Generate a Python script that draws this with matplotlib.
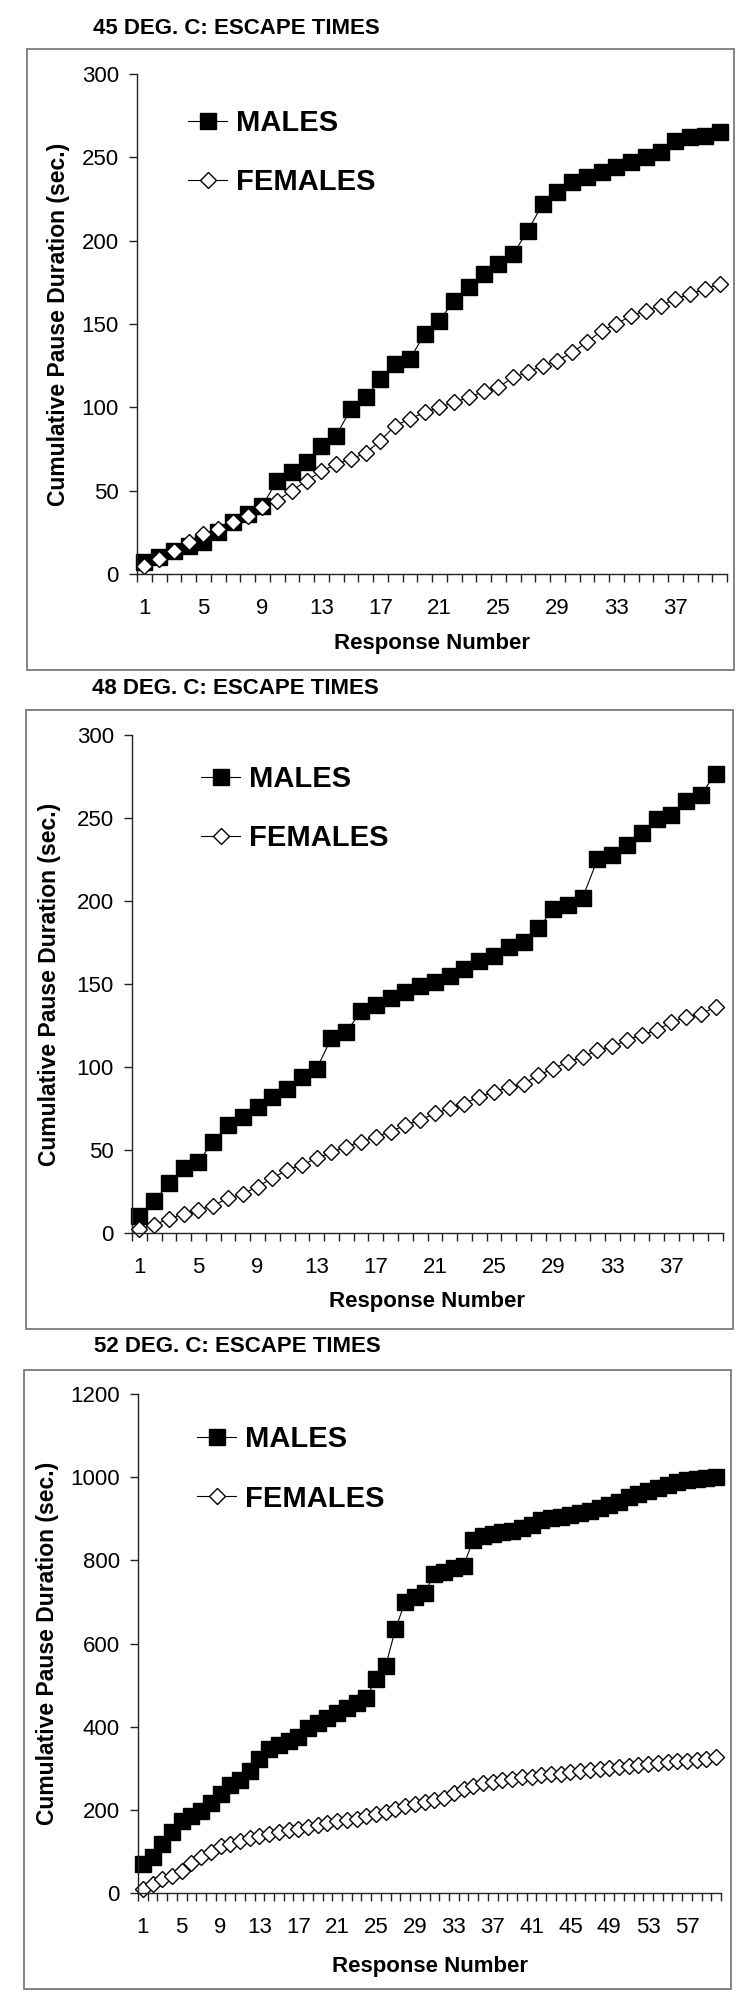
import numpy as np
import matplotlib.pyplot as plt
from matplotlib.patches import Rectangle

# Values (cumulative pause duration, sec.)
titles = ["45 DEG. C: ESCAPE TIMES", "48 DEG. C: ESCAPE TIMES", "52 DEG. C: ESCAPE TIMES"]

males_45 = [7, 10, 14, 16.5, 19, 25, 31, 36, 41, 56, 61, 67, 77, 83, 99, 106, 117, 126, 129, 144,
            152, 164, 172, 180, 186, 192, 206, 222, 229, 235, 238, 241, 244, 247, 250, 253, 260, 262, 263, 265]
females_45 = [4.5, 9, 14, 19, 24, 27, 31, 35, 40, 44, 50, 56, 61.5, 66, 69, 72.5, 80, 89, 93, 97,
              100, 103, 106, 109.5, 112, 118, 121, 125, 128, 133, 139, 146, 150, 155, 158, 161, 165, 168, 171, 174]

males_48 = [10, 19, 30, 39, 43, 55, 65, 70, 76, 82, 87, 94, 99, 117.5, 121, 133.5, 137.5, 141.5, 145, 148.5,
            151, 155, 159, 164, 167, 172, 175, 183.5, 195, 197.5, 202, 225, 228, 234, 241, 249.5, 252, 260, 264, 276.5]
females_48 = [2.5, 5, 8.5, 11.5, 14, 16.5, 21, 23.5, 28, 33, 38, 41, 45, 48.5, 52, 55, 58, 61, 65, 68,
              72, 75, 78, 82, 85, 88, 90, 95, 99, 103, 106, 110, 112.5, 116, 119.5, 122, 127, 130, 132, 136]

males_52 = [69, 86, 118, 147, 172, 185, 198, 216, 237, 259, 272, 293, 322, 347, 356, 365, 375, 397, 408, 422,
            434, 444, 457, 470, 515, 547, 635, 701, 711, 722, 767, 772, 781, 787, 849, 858, 863, 867, 871, 877,
            886, 897, 901, 905, 908, 913, 919, 927, 934, 940, 952, 960, 967, 974, 982, 989, 993, 996, 999, 1000]
females_52 = [9, 22, 34, 40, 54, 72, 86, 99, 112, 118, 125, 132, 136, 142, 147, 151, 155, 159, 164, 168,
              172, 175, 178, 184, 190, 194, 202, 209, 213, 218, 224, 228, 240, 250, 258, 264, 268, 272, 275, 278,
              280, 283, 285, 287, 290, 293, 296, 299, 301, 304, 306, 309, 311, 313, 315, 317, 318, 320, 322, 327]

y_max = [300, 300, 1200]
y_step = [50, 50, 200]
series = [(males_45, females_45), (males_48, females_48), (males_52, females_52)]

plt.rcParams['font.family'] = ['Liberation Sans', 'DejaVu Sans']

W, H = 750, 2010
fig = plt.figure(figsize=(W / 100, H / 100), dpi=100)


def fx(x):
    return x / W


def fy(y):
    return 1 - y / H


# layout in pixels: outer box, axes box, title, labels, legend
boxes = [(27, 49, 734, 670), (26, 710, 733, 1329), (24, 1370, 731, 1989)]
axes_px = [(137, 74, 727, 574), (132, 735, 723, 1233), (138, 1394, 721, 1893)]
title_pos = [(93, 28), (92, 688), (94, 1347)]
ylab_x = [59, 50, 48]
xlab_y = [643, 1301, 1966]
legend_pos = [(188, 109), (201, 765), (197, 1425)]

for i in range(3):
    bx0, by0, bx1, by1 = boxes[i]
    fig.add_artist(Rectangle((fx(bx0), fy(by1)), fx(bx1 - bx0), (by1 - by0) / H,
                             transform=fig.transFigure, fill=False, ec='#7a7a7a', lw=1.3))
    tx, ty = title_pos[i]
    fig.text(fx(tx), fy(ty), titles[i], ha='left', va='center', fontsize=16, weight='bold')

    x0, y0, x1, y1 = axes_px[i]
    ax = fig.add_axes([fx(x0), fy(y1), (x1 - x0) / W, (y1 - y0) / H])
    males, females = series[i]
    n = len(males)
    x = np.arange(1, n + 1)
    ax.plot(x, males, '-s', color='black', lw=0.8, ms=11, mfc='black', mec='black',
            label='MALES', clip_on=False)
    ax.plot(x, females, '-D', color='black', lw=0.8, ms=7.8, mfc='white', mec='black', mew=1.0,
            label='FEMALES', clip_on=False)

    ax.set_xlim(0.5, n + 0.5)
    ax.set_ylim(0, y_max[i])
    ax.set_yticks(np.arange(0, y_max[i] + 1, y_step[i]))
    ax.set_xticks(np.arange(0.5, n + 1, 1))
    ax.set_xticklabels([])
    ax.set_xticks(np.arange(1, n + 1, 4), minor=True)
    ax.set_xticklabels([str(v) for v in range(1, n + 1, 4)], minor=True)
    ax.tick_params(axis='x', which='major', direction='out', length=6, width=1, color='#222222')
    ax.tick_params(axis='x', which='minor', length=0, pad=17, labelsize=16)
    ax.tick_params(axis='y', direction='out', length=6, width=1, pad=7, labelsize=16, color='#222222')
    for s in ['top', 'right']:
        ax.spines[s].set_visible(False)
    for s in ['left', 'bottom']:
        ax.spines[s].set_color('#222222')
        ax.spines[s].set_linewidth(1)

    fig.text(fx(ylab_x[i]), fy((y0 + y1) / 2), 'Cumulative Pause Duration (sec.)', rotation=90,
             ha='center', va='center', fontsize=16.5, weight='bold')
    fig.text(fx((x0 + x1) / 2), fy(xlab_y[i]), 'Response Number', ha='center', va='center',
             fontsize=16, weight='bold')

    lx, ly = legend_pos[i]
    ax.legend(loc='upper left', bbox_to_anchor=(fx(lx), fy(ly)), bbox_transform=fig.transFigure,
              frameon=False, prop={'weight': 'bold', 'size': 21}, handlelength=1.35,
              handletextpad=0.3, labelspacing=1.08, borderpad=0, borderaxespad=0)

fig.savefig('out.png', dpi=100, facecolor='white')
